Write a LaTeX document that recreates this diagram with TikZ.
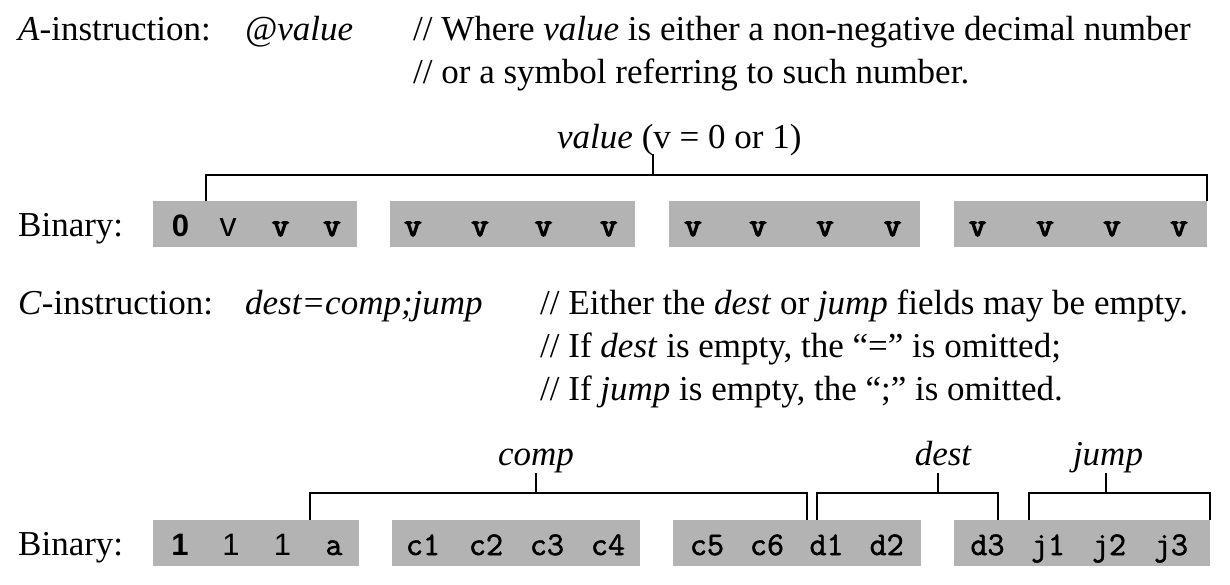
\documentclass[tikz,border=0pt]{standalone}
\usepackage{fontspec}
\setmainfont{Liberation Serif}
\setsansfont{Liberation Sans}
\newfontfamily\ttheavy{Latin Modern Mono}[FakeBold=4]
\newfontfamily\ttmed{Latin Modern Mono}[FakeBold=1.6]
\definecolor{boxgray}{RGB}{179,179,179}
\begin{document}
\begin{tikzpicture}[x=1pt,y=-1pt,
  txt/.style={anchor=base west, inner sep=0pt, font=\fontsize{35}{43}\selectfont},
  lbl/.style={anchor=base, inner sep=0pt, font=\fontsize{35}{43}\selectfont\itshape},
  field/.style={fill=boxgray, draw=none, inner sep=0pt, outer sep=0pt, anchor=north west, minimum height=46pt},
  bitv/.style={anchor=base, inner sep=0pt, font=\fontsize{33}{33}\ttheavy},
  bitc/.style={anchor=base, inner sep=0pt, font=\fontsize{33}{33}\ttmed},
  bits/.style={anchor=base, inner sep=0pt, font=\fontsize{31}{31}\selectfont\sffamily},
  brk/.style={line width=1.4pt}]
\useasboundingbox (0,0) rectangle (1230,584);

% ---------- A-instruction text
\node[txt] (ai) at (18,40) {\textit{A}-instruction:};
\node[txt] (av) at (245,40) {\textit{@value}};
\node[txt] (ac1) at (413,40) {// Where \textit{value} is either a non-negative decimal number};
\node[txt] (ac2) at (413,83) {// or a symbol referring to such number.};

% ---------- A binary
\node[txt] (bin1) at (18,236) {Binary:};
\node[field, minimum width=204pt] (a1) at (153,201) {};
\node[field, minimum width=245pt] (a2) at (390,201) {};
\node[field, minimum width=251pt] (a3) at (669,201) {};
\node[field, minimum width=253pt] (a4) at (954,201) {};
\node[bits, font=\fontsize{31}{31}\selectfont\sffamily\bfseries] (ab0) at (180.6,236) {0};
\node[bits, font=\fontsize{34}{34}\selectfont\sffamily] (ab1) at (228,236) {v};
\foreach \x [count=\i from 2] in {280.6,332,413,480,543.5,608.7,693,758,825,892.6,977.6,1045,1112,1179}
  \node[bitv] (ab\i) at (\x,236) {v};

\node[anchor=base west, inner sep=0pt, font=\fontsize{35}{43}\selectfont] (vlab) at (557,148) {\textit{value} (v = 0 or 1)};
\coordinate (vL) at (206,201);
\coordinate (vT) at (653,175);
\coordinate (vR) at (a4.north east);
\draw[brk] (vL) |- (vT) -| (vR);
\draw[brk] (vT) -- ++(0,-21);

% ---------- C-instruction text
\node[txt] (ci) at (18,314) {\textit{C}-instruction:};
\node[txt] (cv) at (245,314) {\textit{dest=comp;jump}};
\node[txt] (cc1) at (540,314) {// Either the \textit{dest} or \textit{jump} fields may be empty.};
\node[txt] (cc2) at (540,357) {// If \textit{dest} is empty, the ``='' is omitted;};
\node[txt] (cc3) at (540,400) {// If \textit{jump} is empty, the ``;'' is omitted.};

% ---------- C binary
\node[txt] (bin2) at (18,555) {Binary:};
\node[field, minimum width=206pt] (c1) at (153,520) {};
\node[field, minimum width=248pt] (c2) at (392,520) {};
\node[field, minimum width=248pt] (c3) at (673,520) {};
\node[field, minimum width=256pt] (c4) at (954,520) {};
\node[bits, font=\fontsize{31}{31}\selectfont\sffamily\bfseries] (cb0) at (180,555) {1};
\node[bits] (cb1) at (231,555) {1};
\node[bits] (cb2) at (282.6,555) {1};
\foreach \x/\t [count=\i from 3] in {334/a,423/c1,486/c2,547/c3,608/c4,707/c5,767/c6,826.6/d1,886.7/d2,987.5/d3,1048/j1,1109/j2,1171/j3}
  \node[bitc] (cb\i) at (\x,555) {\t};

% brackets
\node[lbl] (comp) at (536,465) {comp};
\node[lbl] (dest) at (943,465) {dest};
\node[lbl] (jump) at (1108,465) {jump};

\coordinate (cL) at (310,520);
\coordinate (cT) at (536,493);
\coordinate (cR) at (807,520);
\draw[brk] (cL) |- (cT) -| (cR);
\draw[brk] (cT) -- ++(0,-20);

\coordinate (dL) at (817,520);
\coordinate (dT) at (938,493);
\coordinate (dR) at (998,520);
\draw[brk] (dL) |- (dT) -| (dR);
\draw[brk] (dT) -- ++(0,-20);

\coordinate (jL) at (1029,520);
\coordinate (jT) at (1106,493);
\coordinate (jR) at (c4.north east);
\draw[brk] (jL) |- (jT) -| (jR);
\draw[brk] (jT) -- ++(0,-20);
\end{tikzpicture}
\end{document}
